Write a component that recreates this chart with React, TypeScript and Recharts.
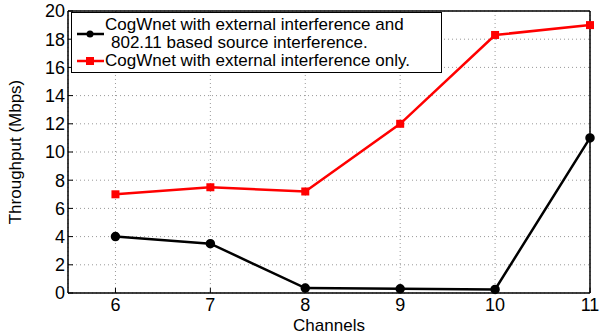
import { LineChart, Line, XAxis, YAxis, CartesianGrid, ReferenceLine } from "recharts";

const channels = [6, 7, 8, 9, 10, 11];
const bothInterference = [4, 3.5, 0.35, 0.3, 0.25, 11];
const externalOnly = [7, 7.5, 7.2, 12, 18.3, 19];
const yTicks = [0, 2, 4, 6, 8, 10, 12, 14, 16, 18, 20];

const data = channels.map((ch, i) => ({
  ch,
  both: bothInterference[i],
  ext: externalOnly[i],
}));

const FONT = "'Liberation Sans', Arial, Helvetica, sans-serif";

const SquareDot = (props: any) => {
  const { cx, cy } = props;
  if (cx == null || cy == null) return null;
  return <rect x={cx - 4} y={cy - 4} width={8} height={8} fill="#ff0000" />;
};

const LegendBox = () => (
  <div
    style={{
      position: "absolute",
      left: 71,
      top: 12,
      background: "#fff",
      border: "1.5px solid #000",
      width: 371,
      height: 61,
      padding: "3px 0 0 3px",
      fontFamily: FONT,
      fontSize: 17,
      lineHeight: "18px",
      color: "#000",
      boxSizing: "border-box",
    }}
  >
    <div style={{ display: "flex", alignItems: "center" }}>
      <svg width={30} height={18} style={{ flex: "none" }}>
        <line x1={2} y1={9} x2={29} y2={9} stroke="#000" strokeWidth={2.5} />
        <circle cx={15} cy={9} r={3.5} fill="#000" />
      </svg>
      <div>
        CogWnet with external interference and
        <div style={{ paddingLeft: 6 }}>802.11 based source interference.</div>
      </div>
    </div>
    <div style={{ display: "flex", alignItems: "center" }}>
      <svg width={30} height={18} style={{ flex: "none" }}>
        <line x1={2} y1={9} x2={29} y2={9} stroke="#ff0000" strokeWidth={2.5} />
        <rect x={11} y={5} width={8} height={8} fill="#ff0000" />
      </svg>
      <div>CogWnet with external interference only.</div>
    </div>
  </div>
);

export default function App() {
  return (
    <div style={{ position: "absolute", left: 0, top: 0, width: 610, height: 335, background: "#fff" }}>
      <LineChart
        width={610}
        height={335}
        data={data}
        margin={{ top: 11, right: 20, bottom: 0, left: 0 }}
        style={{ fontFamily: FONT }}
      >
        <CartesianGrid stroke="#999" strokeDasharray="1 3" />
        <XAxis
          dataKey="ch"
          type="number"
          domain={[5.5, 11]}
          ticks={channels}
          interval={0}
          height={42}
          stroke="#000"
          tickSize={-5}
          tickMargin={10}
          tick={{ fill: "#000", fontSize: 18 }}
          axisLine={{ stroke: "#000", strokeWidth: 1.5 }}
          label={{ value: "Channels", position: "insideBottom", offset: 4, fill: "#000", fontSize: 17 }}
        />
        <YAxis
          type="number"
          domain={[0, 20]}
          ticks={yTicks}
          interval={0}
          width={68}
          stroke="#000"
          tickSize={-5}
          tickMargin={8}
          tick={{ fill: "#000", fontSize: 18 }}
          axisLine={{ stroke: "#000", strokeWidth: 1.5 }}
          label={{
            value: "Throughput (Mbps)",
            angle: -90,
            position: "insideLeft",
            offset: 15,
            fill: "#000",
            fontSize: 17,
            style: { textAnchor: "middle" },
          }}
        />
        <ReferenceLine y={20} stroke="#000" strokeWidth={1.5} />
        <ReferenceLine x={11} stroke="#000" strokeWidth={1.5} />
        <Line
          dataKey="both"
          stroke="#000"
          strokeWidth={2.5}
          dot={{ r: 3.5, fill: "#000", stroke: "#000" }}
          isAnimationActive={false}
        />
        <Line
          dataKey="ext"
          stroke="#ff0000"
          strokeWidth={2.5}
          dot={<SquareDot />}
          isAnimationActive={false}
        />
      </LineChart>
      <LegendBox />
    </div>
  );
}
